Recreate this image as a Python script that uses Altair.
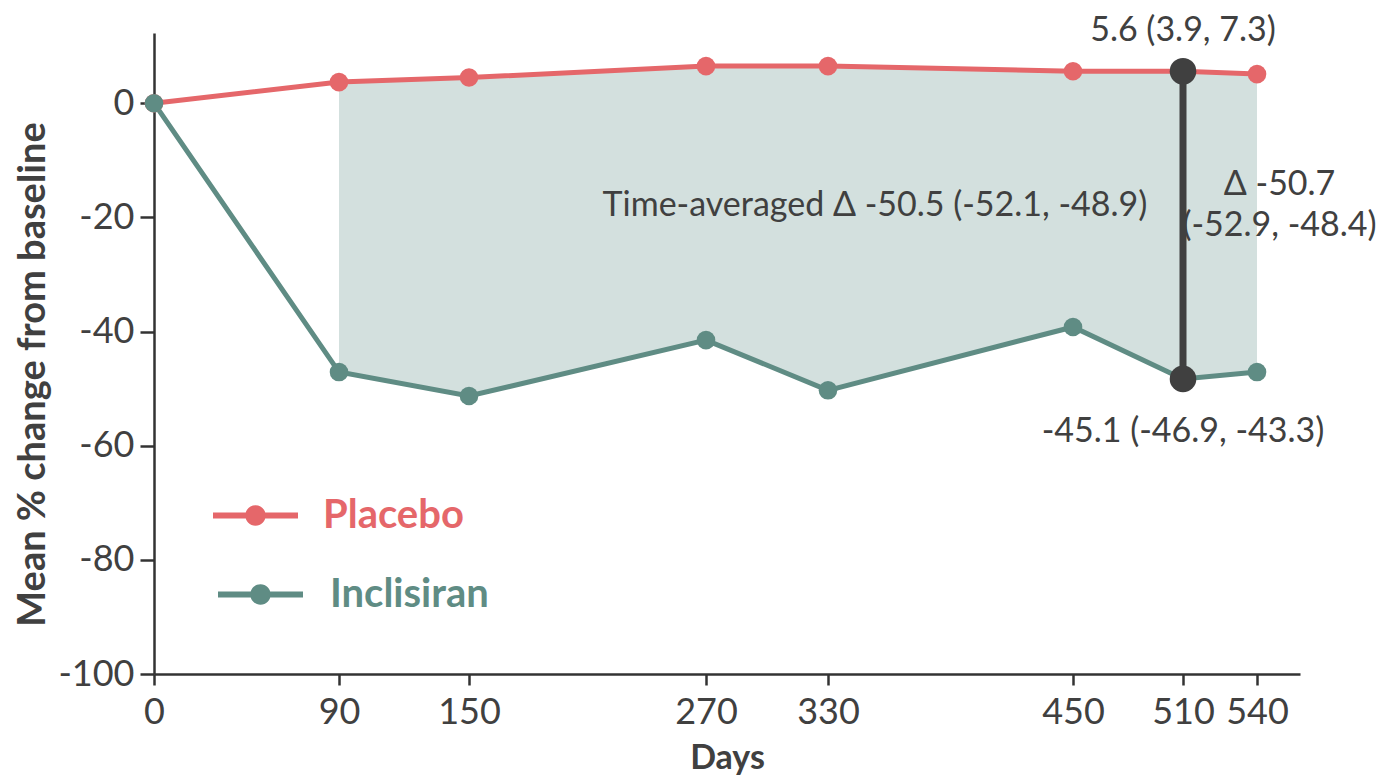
import altair as alt
import pandas as pd

# ---- data ----
days = [0, 90, 150, 270, 330, 450, 510, 540]
placebo = [0, 3.7, 4.5, 6.5, 6.5, 5.6, 5.6, 5.1]
inclisiran = [0, -47.1, -51.3, -41.5, -50.3, -39.2, -48.3, -47.1]
x_ticks = [0, 90, 150, 270, 330, 450, 510, 540]
y_ticks = [0, -20, -40, -60, -80, -100]
shade_start = 90
highlight_day = 510

ann_text = ["5.6 (3.9, 7.3)", "-45.1 (-46.9, -43.3)",
            "Time-averaged \u0394 -50.5 (-52.1, -48.9)", "\u0394 -50.7", "(-52.9, -48.4)"]
ann_x = [510, 510, 353, 551, 551]
ann_y = [12.6, -57.6, -18.0, -14.4, -21.6]

# the reference's day axis is drawn slightly uneven: piecewise-linear scale
x_scale_domain = [0, 90, 150, 270, 330, 450, 510, 540, 561]
x_scale_range = [0, 185, 315, 552, 674, 919, 1029, 1103, 1146]

RED = "#E5676A"
TEAL = "#5F8C84"
SHADE = "#D3E0DE"
DARK = "#404040"
AXIS = "#333333"
FONT = "Lato"

df = pd.DataFrame({"day": days, "placebo": placebo, "inclisiran": inclisiran})
ann = pd.DataFrame({"label": ann_text, "x": ann_x, "y": ann_y})

HYPHEN = "replace(datum.label, '\u2212', '-')"


def x_enc(field="day"):
    return alt.X(f"{field}:Q",
                 scale=alt.Scale(domain=x_scale_domain, range=x_scale_range,
                                 nice=False, zero=False),
                 axis=alt.Axis(values=x_ticks, title="Days", tickSize=11, labelPadding=10,
                               titlePadding=11, titleFontSize=34, labelFlush=False,
                               labelOverlap=False))


def y_enc(field):
    return alt.Y(f"{field}:Q",
                 scale=alt.Scale(domain=[-100, 12.3], nice=False, zero=False),
                 axis=alt.Axis(values=y_ticks, title="Mean % change from baseline",
                               tickSize=14, labelPadding=6, titlePadding=5,
                               titleFontSize=38, titleY=341, labelFlush=False,
                               labelExpr=HYPHEN, labelOverlap=False))


SYMBOL = ("M-1,-0.07H1V0.07H-1Z "
          "M-0.24,0A0.24,0.24,0,1,1,0.24,0A0.24,0.24,0,1,1,-0.24,0Z")


def legend(x, y, color, offset):
    return alt.Legend(title=None, orient="none", legendX=x, legendY=y,
                      symbolType=SYMBOL, symbolSize=7225, symbolStrokeWidth=0,
                      labelFont=FONT, labelFontWeight="bold", labelFontSize=40,
                      labelColor=color, labelOffset=offset, labelLimit=500,
                      padding=0)


base = alt.Chart(df)

area = base.transform_filter(alt.datum.day >= shade_start).mark_area(
    color=SHADE, opacity=1).encode(x=x_enc(), y=y_enc("placebo"), y2="inclisiran:Q")

line_p = base.mark_line(color=RED, strokeWidth=5).encode(x=x_enc(), y=y_enc("placebo"))
line_i = base.mark_line(color=TEAL, strokeWidth=5).encode(x=x_enc(), y=y_enc("inclisiran"))

pts_p = base.transform_calculate(grp="'Placebo'").mark_circle(size=346, opacity=1).encode(
    x=x_enc(), y=y_enc("placebo"),
    color=alt.Color("grp:N", scale=alt.Scale(domain=["Placebo"], range=[RED]),
                    legend=legend(59, 440, RED, 25)))
pts_i = base.transform_calculate(grp="'Inclisiran'").mark_circle(size=346, opacity=1).encode(
    x=x_enc(), y=y_enc("inclisiran"),
    color=alt.Color("grp:N", scale=alt.Scale(domain=["Inclisiran"], range=[TEAL]),
                    legend=legend(64, 519, TEAL, 27)))

hl = base.transform_filter(alt.datum.day == highlight_day)
rule = hl.mark_rule(color=DARK, strokeWidth=7).encode(
    x=x_enc(), y=y_enc("placebo"), y2="inclisiran:Q")
dot_p = hl.mark_circle(size=707, opacity=1, color=DARK).encode(x=x_enc(), y=y_enc("placebo"))
dot_i = hl.mark_circle(size=707, opacity=1, color=DARK).encode(x=x_enc(), y=y_enc("inclisiran"))

texts = alt.Chart(ann).mark_text(font=FONT, fontSize=34, color=DARK, align="center",
                                 baseline="middle").encode(
    x=x_enc("x"), y=y_enc("y"), text="label:N")

chart = alt.layer(area, line_p, line_i, pts_p, pts_i, rule, dot_p, dot_i, texts).resolve_scale(
    color="independent"
).properties(
    width=1146, height=641,
    autosize=alt.AutoSizeParams(type="none"),
    padding={"left": 146, "top": 25, "right": 80, "bottom": 102},
).configure_view(stroke=None).configure_axis(
    domainColor=AXIS, domainWidth=2.5, tickColor=AXIS, tickWidth=2.5,
    labelFont=FONT, labelFontSize=36, labelColor=DARK,
    titleFont=FONT, titleFontWeight="bold", titleColor=DARK, grid=False,
)

chart.save("out.html", embed_options={"renderer": "svg", "actions": False})
